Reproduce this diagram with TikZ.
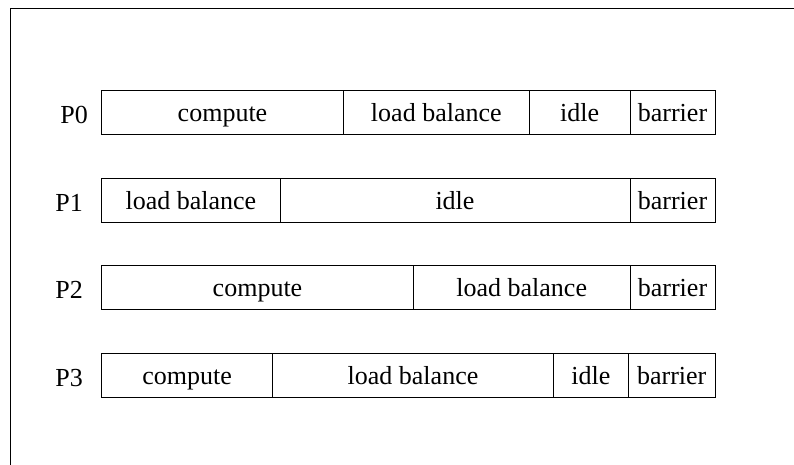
\documentclass[tikz,border=0pt]{standalone}
\usepackage{fontspec}
\setmainfont{Liberation Serif}

\begin{document}
\begin{tikzpicture}[x=1pt,y=-1pt,font=\fontsize{26}{30}\selectfont]
    \tikzset{
        seg/.style={
            draw,line width=0.9pt,inner sep=0pt,
            minimum height=44pt,text height=25pt,text depth=5.6pt,
            anchor=center
        },
        plabel/.style={anchor=base east,inner sep=0pt}
    }
    \useasboundingbox (0,0) rectangle (794,465);

    % frame
    \draw[line width=1.2pt] (10.5,465) -- (10.5,8.5) -- (794,8.5);

    % P0
    \node[plabel] (lab0) at (88,123.7) {P0};
    \node[seg,minimum width=241.6pt] (p0comp) at (222.5,112) {compute};
    \node[seg,minimum width=186pt]   (p0lb)   at (436.3,112) {load balance};
    \node[seg,minimum width=100.7pt] (p0idle) at (579.7,112) {idle};
    \node[seg,minimum width=85pt]    (p0bar)  at (672.5,112) {barrier};

    % P1
    \node[plabel] (lab1) at (83,211.7) {P1};
    \node[seg,minimum width=178.3pt] (p1lb)   at (190.9,200) {load balance};
    \node[seg,minimum width=350pt]   (p1idle) at (455,200)   {idle};
    \node[seg,minimum width=85pt]    (p1bar)  at (672.5,200) {barrier};

    % P2
    \node[plabel] (lab2) at (83,298.7) {P2};
    \node[seg,minimum width=311.6pt] (p2comp) at (257.5,287) {compute};
    \node[seg,minimum width=216.7pt] (p2lb)   at (521.7,287) {load balance};
    \node[seg,minimum width=85pt]    (p2bar)  at (672.5,287) {barrier};

    % P3
    \node[plabel] (lab3) at (83,386.7) {P3};
    \node[seg,minimum width=171pt]   (p3comp) at (187.2,375) {compute};
    \node[seg,minimum width=280.6pt] (p3lb)   at (413,375)   {load balance};
    \node[seg,minimum width=75pt]    (p3idle) at (590.8,375) {idle};
    \node[seg,minimum width=86.7pt]  (p3bar)  at (671.7,375) {barrier};
\end{tikzpicture}
\end{document}
